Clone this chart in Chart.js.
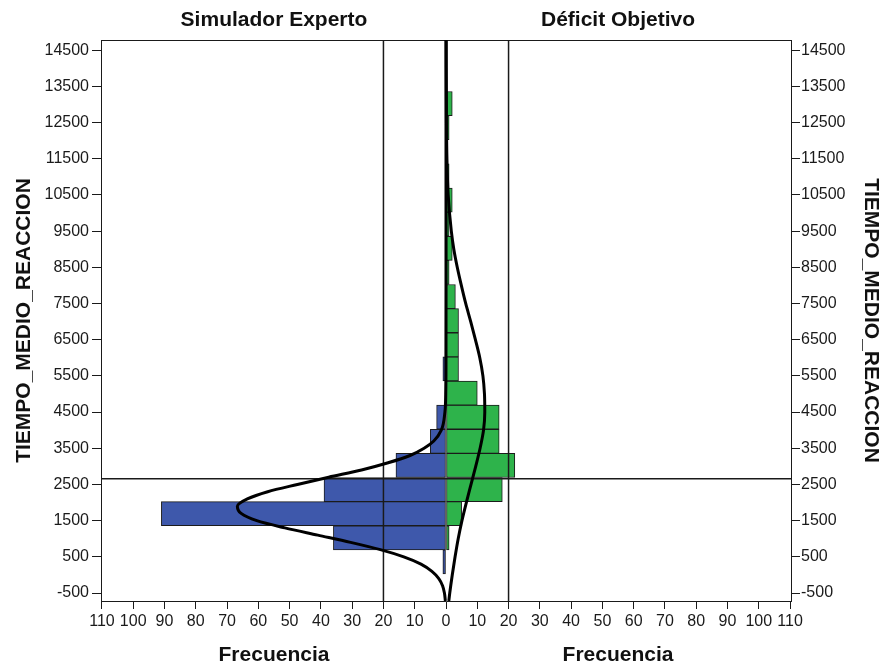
<!DOCTYPE html>
<html><head><meta charset="utf-8">
<script src="https://cdn.jsdelivr.net/npm/chart.js@4.4.1/dist/chart.umd.min.js"></script>
<style>html,body{margin:0;padding:0;background:#fff;} #wrap{width:885px;height:671px;}</style>
</head><body><div id="wrap"><canvas id="c" width="885" height="671"></canvas></div>
<script>
// ---- data ----
const panelTitles = ['Simulador Experto', 'Déficit Objetivo'];
const freqTitle = 'Frecuencia';
const timeTitle = 'TIEMPO_MEDIO_REACCION';

const binCenters = [358, 1025, 1692, 2358, 3025, 3692, 4358, 5025, 5692, 6358,
                    7025, 7692, 8358, 9025, 9692, 10358, 11025, 11692, 12358, 13025];
const simuladorCounts = [1, 36, 91, 39, 16, 5, 3, 0, 1, 0, 0, 0, 0, 0, 0, 0, 0, 0, 0, 0];
const deficitCounts   = [0, 1, 5, 18, 22, 17, 17, 10, 4, 4, 4, 3, 1, 2, 1, 2, 1, 0, 1, 2];

const yTicks = [-500, 500, 1500, 2500, 3500, 4500, 5500, 6500, 7500, 8500, 9500, 10500, 11500, 12500, 13500, 14500];
const xTicks = [-110, -100, -90, -80, -70, -60, -50, -40, -30, -20, -10, 0, 10, 20, 30, 40, 50, 60, 70, 80, 90, 100, 110];
const titleTickPos = [-55, 55];

// normal curves, points (time, frequency)
const simCurveTime = [-720, -500, -300, -100, 100, 300, 500, 700, 900, 1100, 1300, 1500, 1700, 1900, 2100, 2300, 2500, 2700, 2900, 3100, 3300, 3500, 3700, 4000, 4500, 5000, 6000, 8000, 14780];
const simCurveFreq = [0.2, 0.5, 1.1, 2.3, 4.5, 8, 13.5, 21, 30.5, 41, 51.5, 60.5, 65.5, 66.7, 63.5, 57, 47.5, 37.5, 27, 18.5, 11.5, 7, 3.9, 1.5, 0.35, 0.1, 0.02, 0, 0];
const defCurveTime = [-720, -500, 0, 500, 1000, 1500, 2000, 2500, 3000, 3500, 4000, 4500, 5000, 5500, 6000, 6500, 7000, 7500, 8000, 8500, 9000, 9500, 10500, 11500, 12500, 14780];
const defCurveFreq = [0.9, 1.2, 2.0, 2.9, 3.9, 5.1, 6.5, 8.0, 9.5, 10.9, 12.0, 12.4, 12.3, 11.8, 10.8, 9.4, 7.9, 6.3, 4.9, 3.6, 2.5, 1.7, 0.7, 0.3, 0.15, 0.05];

const refFreqLines = [-20, 20];
const refTimeLine = 2660;

const X_MIN = -110.3, X_MAX = 110.3, Y_MIN = -720, Y_MAX = 14780;

// ---- chart ----
Chart.defaults.font.family = "'Liberation Sans', Arial, sans-serif";
Chart.defaults.color = '#1a1a1a';

const datasets = [
  { type: 'bar', label: panelTitles[0], data: binCenters.map((t, i) => ({ x: -simuladorCounts[i], y: t })),
    backgroundColor: '#3e58ab', borderColor: '#1b1b1b', borderWidth: 1, borderSkipped: false,
    grouped: false, barPercentage: 1, categoryPercentage: 1, order: 5 },
  { type: 'bar', label: panelTitles[1], data: binCenters.map((t, i) => ({ x: deficitCounts[i], y: t })),
    backgroundColor: '#2eb34b', borderColor: '#1b1b1b', borderWidth: 1, borderSkipped: false,
    grouped: false, barPercentage: 1, categoryPercentage: 1, order: 4 },
];
refFreqLines.forEach(f => datasets.push({
  type: 'line', data: [{ x: f, y: Y_MIN }, { x: f, y: Y_MAX }],
  borderColor: '#1a1a1a', borderWidth: 1.5, pointRadius: 0, tension: 0, order: 3 }));
datasets.push({
  type: 'line', data: [{ x: X_MIN, y: refTimeLine }, { x: X_MAX, y: refTimeLine }],
  borderColor: '#1a1a1a', borderWidth: 1.5, pointRadius: 0, tension: 0, order: 3 });
datasets.push({
  type: 'line', data: simCurveTime.map((t, i) => ({ x: -simCurveFreq[i], y: t })),
  borderColor: '#000', borderWidth: 3, pointRadius: 0, cubicInterpolationMode: 'monotone', order: 1 });
datasets.push({
  type: 'line', data: defCurveTime.map((t, i) => ({ x: defCurveFreq[i], y: t })),
  borderColor: '#000', borderWidth: 3, pointRadius: 0, cubicInterpolationMode: 'monotone', order: 1 });

const yAxisCommon = {
  type: 'linear', min: Y_MIN, max: Y_MAX, offset: false,
  afterBuildTicks: s => { s.ticks = yTicks.map(v => ({ value: v })); },
  ticks: { autoSkip: false, font: { size: 16 }, callback: v => String(v) },
  grid: { display: true, drawOnChartArea: false, drawTicks: true, tickLength: 9, color: '#1a1a1a', lineWidth: 1, offset: false },
  border: { display: true, color: '#1a1a1a', width: 1 },
};

new Chart(document.getElementById('c'), {
  type: 'bar',
  data: { datasets },
  options: {
    indexAxis: 'y',
    responsive: false,
    animation: false,
    events: [],
    layout: { padding: 0 },
    plugins: { legend: { display: false }, tooltip: { enabled: false }, title: { display: false } },
    scales: {
      x: {
        type: 'linear', position: 'bottom', min: X_MIN, max: X_MAX, weight: 0, offset: false,
        afterBuildTicks: s => { s.ticks = xTicks.map(v => ({ value: v })); },
        afterFit: s => { s.height = 39; },
        ticks: { autoSkip: false, maxRotation: 0, padding: 3, font: { size: 16 }, callback: v => String(Math.abs(v)) },
        grid: { display: true, drawOnChartArea: false, drawTicks: true, tickLength: 8, color: '#1a1a1a', lineWidth: 1, offset: false },
        border: { display: true, color: '#1a1a1a', width: 1 },
      },
      xf: {
        type: 'linear', position: 'bottom', min: X_MIN, max: X_MAX, weight: 1, offset: false,
        afterBuildTicks: s => { s.ticks = titleTickPos.map(v => ({ value: v })); },
        afterFit: s => { s.height = 31; },
        ticks: { autoSkip: false, maxRotation: 0, padding: 3, font: { size: 21, weight: 'bold' }, color: '#111', callback: () => freqTitle },
        grid: { display: false, drawTicks: false },
        border: { display: false },
      },
      xt: {
        type: 'linear', position: 'top', min: X_MIN, max: X_MAX, offset: false,
        afterBuildTicks: s => { s.ticks = titleTickPos.map(v => ({ value: v })); },
        afterFit: s => { s.height = 40; },
        ticks: { autoSkip: false, maxRotation: 0, padding: 7, font: { size: 21, weight: 'bold' }, color: '#111',
                 callback: (v, i) => panelTitles[i] },
        grid: { display: false, drawTicks: false },
        border: { display: true, color: '#1a1a1a', width: 1 },
      },
      y: Object.assign({}, yAxisCommon, {
        position: 'left',
        afterFit: s => { s.width = 101; },
        ticks: Object.assign({}, yAxisCommon.ticks, { padding: 3 }),
        title: { display: true, text: timeTitle, font: { size: 21, weight: 'bold' }, color: '#111', padding: { top: 12, bottom: 0 } },
      }),
      y2: Object.assign({}, yAxisCommon, {
        position: 'right',
        afterFit: s => { s.width = 94; },
        ticks: Object.assign({}, yAxisCommon.ticks, { padding: 1 }),
        title: { display: true, text: timeTitle, font: { size: 21, weight: 'bold' }, color: '#111', padding: { top: 2, bottom: 0 } },
      }),
    },
  },
});
</script>
</body></html>
